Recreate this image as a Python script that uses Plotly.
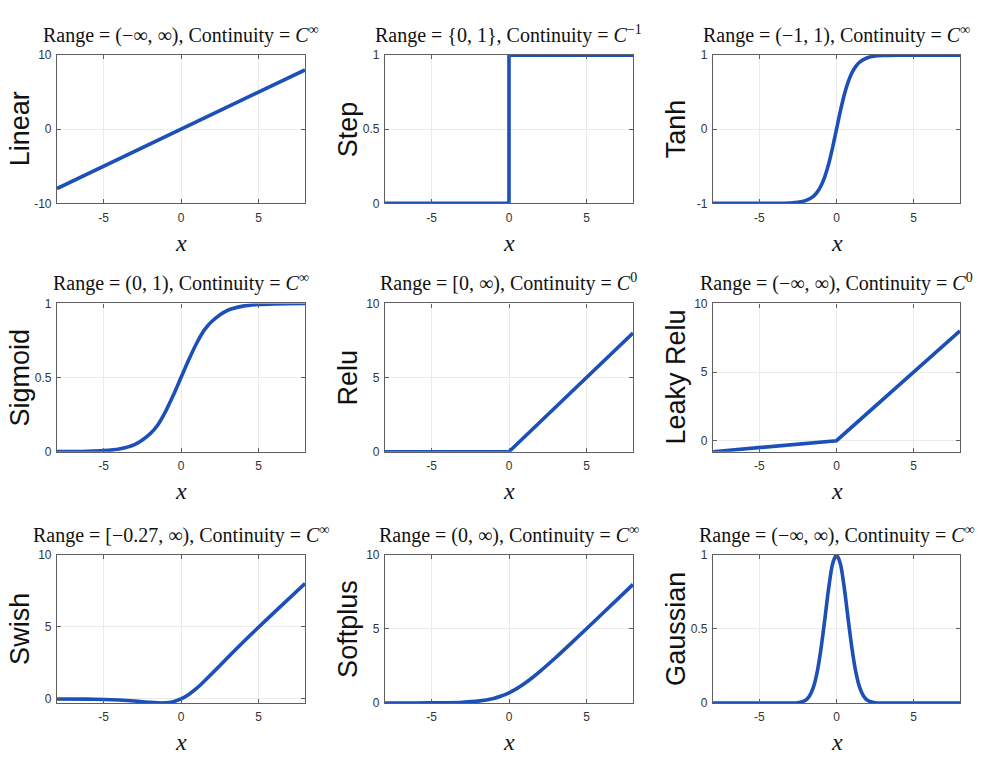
import plotly.graph_objects as go

W, H = 982, 763

# ---------------- data ----------------
names = ["Linear", "Step", "Tanh", "Sigmoid", "Relu", "Leaky Relu", "Swish", "Softplus", "Gaussian"]
titles = [
    "Range = (−∞, ∞), Continuity = <i>C</i><sup>∞</sup>",
    "Range = {0, 1}, Continuity = <i>C</i><sup>−1</sup>",
    "Range = (−1, 1), Continuity = <i>C</i><sup>∞</sup>",
    "Range = (0, 1), Continuity = <i>C</i><sup>∞</sup>",
    "Range = [0, ∞), Continuity = <i>C</i><sup>0</sup>",
    "Range = (−∞, ∞), Continuity = <i>C</i><sup>0</sup>",
    "Range = [−0.27, ∞), Continuity = <i>C</i><sup>∞</sup>",
    "Range = (0, ∞), Continuity = <i>C</i><sup>∞</sup>",
    "Range = (−∞, ∞), Continuity = <i>C</i><sup>∞</sup>",
]

linear_x = [-8, 8]
linear_y = [-8, 8]

step_x = [-8, 0, 0, 8]
step_y = [0, 0, 1, 1]

tanh_x = [-8, -4, -3, -2.5, -2, -1.5, -1.25, -1, -0.75, -0.5, -0.25, 0, 0.25, 0.5, 0.75, 1, 1.25, 1.5, 2, 2.5, 3, 4, 8]
tanh_y = [-1, -0.999, -0.995, -0.987, -0.964, -0.905, -0.848, -0.762, -0.635, -0.462, -0.245, 0,
          0.245, 0.462, 0.635, 0.762, 0.848, 0.905, 0.964, 0.987, 0.995, 0.999, 1]

sigmoid_x = [-8, -6, -5, -4, -3, -2, -1.5, -1, -0.5, 0, 0.5, 1, 1.5, 2, 3, 4, 5, 6, 8]
sigmoid_y = [0.0003, 0.0025, 0.007, 0.018, 0.047, 0.12, 0.18, 0.27, 0.38, 0.5, 0.62, 0.73, 0.82, 0.88, 0.953, 0.982, 0.993, 0.9975, 0.9997]

relu_x = [-8, 0, 8]
relu_y = [0, 0, 8]

leaky_x = [-8, 0, 8]
leaky_y = [-0.8, 0, 8]

swish_x = [-8, -6, -5, -4, -3, -2, -1.5, -1, -0.5, 0, 0.5, 1, 1.5, 2, 3, 4, 5, 6, 8]
swish_y = [-0.003, -0.015, -0.033, -0.072, -0.14, -0.24, -0.27, -0.27, -0.19, 0, 0.31, 0.73, 1.23, 1.76, 2.86, 3.93, 4.97, 5.99, 8.0]

softplus_x = [-8, -6, -4, -3, -2, -1, -0.5, 0, 0.5, 1, 1.5, 2, 3, 4, 5, 6, 8]
softplus_y = [0.0003, 0.0025, 0.018, 0.049, 0.127, 0.31, 0.47, 0.69, 0.97, 1.31, 1.70, 2.13, 3.05, 4.02, 5.01, 6.0, 8.0]

gauss_x = [-8, -3, -2.5, -2, -1.75, -1.5, -1.25, -1, -0.75, -0.5, -0.25, 0, 0.25, 0.5, 0.75, 1, 1.25, 1.5, 1.75, 2, 2.5, 3, 8]
gauss_y = [0, 0.0001, 0.002, 0.018, 0.047, 0.105, 0.21, 0.37, 0.57, 0.78, 0.94, 1,
           0.94, 0.78, 0.57, 0.37, 0.21, 0.105, 0.047, 0.018, 0.002, 0.0001, 0]

series = [
    (linear_x, linear_y, "linear"),
    (step_x, step_y, "linear"),
    (tanh_x, tanh_y, "spline"),
    (sigmoid_x, sigmoid_y, "spline"),
    (relu_x, relu_y, "linear"),
    (leaky_x, leaky_y, "linear"),
    (swish_x, swish_y, "spline"),
    (softplus_x, softplus_y, "spline"),
    (gauss_x, gauss_y, "spline"),
]

y_ranges = [[-10, 10], [0, 1], [-1, 1], [0, 1], [0, 10], [-0.8, 10], [-0.28, 10], [0, 10], [0, 1]]
y_ticks = [[-10, 0, 10], [0, 0.5, 1], [-1, 0, 1], [0, 0.5, 1], [0, 5, 10], [0, 5, 10], [0, 5, 10], [0, 5, 10], [0, 0.5, 1]]
y_ticklabels = [["-10", "0", "10"], ["0", "0.5", "1"], ["-1", "0", "1"], ["0", "0.5", "1"],
                ["0", "5", "10"], ["0", "5", "10"], ["0", "5", "10"], ["0", "5", "10"], ["0", "0.5", "1"]]
x_ticks = [-5, 0, 5]
x_ticklabels = ["-5", "0", "5"]

# ---------------- layout ----------------
col_px = [(57, 305), (385, 633), (713, 960)]
row_px = [(49, 200), (302, 453), (558, 709)]

LINE = "#1c4fb8"
FRAME = "#5f5f5f"
GRID = "#ebebeb"

fig = go.Figure()
annotations = []

for i in range(9):
    r, c = divmod(i, 3)
    x0, x1 = col_px[c]
    t0, t1 = row_px[r]
    xa = "x" if i == 0 else f"x{i+1}"
    ya = "y" if i == 0 else f"y{i+1}"
    xs, ys, shape = series[i]
    line = dict(color=LINE, width=3.6, shape=shape)
    if shape == "spline":
        line["smoothing"] = 0.8
    fig.add_trace(go.Scatter(
        x=xs, y=ys, mode="lines", xaxis=xa, yaxis=ya,
        line=line, showlegend=False, hoverinfo="skip"))

    axis_common = dict(
        showgrid=True, gridcolor=GRID, gridwidth=1, zeroline=False,
        showline=True, linecolor=FRAME, linewidth=1.2, mirror="ticks",
        ticks="inside", ticklen=4, tickcolor=FRAME, tickwidth=1,
        tickfont=dict(family="Liberation Sans Narrow, Liberation Sans, Arial", size=12, color="#333333"),
        fixedrange=True,
    )
    fig.layout[("xaxis" if i == 0 else f"xaxis{i+1}")] = dict(
        axis_common, domain=[x0 / W, x1 / W], range=[-8, 8],
        tickvals=x_ticks, ticktext=x_ticklabels, anchor=ya, ticklabelstandoff=3)
    fig.layout[("yaxis" if i == 0 else f"yaxis{i+1}")] = dict(
        axis_common, domain=[1 - t1 / H, 1 - t0 / H], range=y_ranges[i],
        tickvals=y_ticks[i], ticktext=y_ticklabels[i], anchor=xa, ticklabelstandoff=2)

    cx = (x0 + x1) / 2
    annotations.append(dict(
        text=titles[i], x=cx / W, y=1 - (t0 - 21) / H, xref="paper", yref="paper",
        xanchor="center", yanchor="middle", showarrow=False,
        font=dict(family="Liberation Serif, Times New Roman, serif", size=20, color="#111111")))
    annotations.append(dict(
        text=names[i], x=(x0 - 37) / W, y=1 - ((t0 + t1) / 2) / H, xref="paper", yref="paper",
        xanchor="center", yanchor="middle", textangle=-90, showarrow=False,
        font=dict(family="Liberation Sans, Arial, sans-serif", size=27, color="#111111")))
    annotations.append(dict(
        text="<i>x</i>", x=cx / W, y=1 - (t1 + 40) / H, xref="paper", yref="paper",
        xanchor="center", yanchor="middle", showarrow=False,
        font=dict(family="Liberation Serif, Times New Roman, serif", size=24, color="#111111")))

fig.update_layout(
    width=W, height=H, autosize=False,
    margin=dict(l=0, r=0, t=0, b=0),
    paper_bgcolor="white", plot_bgcolor="white",
    annotations=annotations,
)

post = ("document.body.style.margin='0';document.body.style.overflow='hidden';"
        "var gd=document.getElementById('{plot_id}');"
        "Plotly.relayout(gd,{width:982,height:763});")

fig.write_html("out.html", config={"displayModeBar": False, "responsive": False}, post_script=post)
